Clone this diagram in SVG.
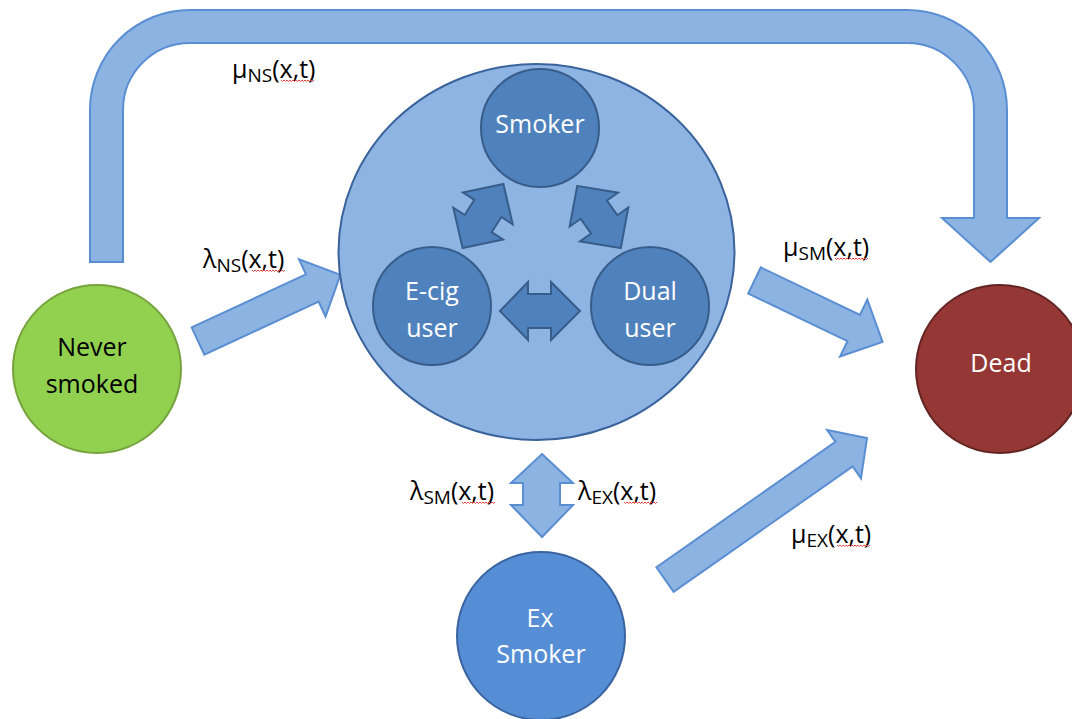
<svg xmlns="http://www.w3.org/2000/svg" width="1072" height="719" viewBox="0 0 1072 719">
<style>
  .outer { fill: #8DB3E2; stroke: #5A8ED2; stroke-width: 2; stroke-linejoin: miter; }
  .inner { fill: #4F81BD; stroke: #385D8A; stroke-width: 2; stroke-linejoin: miter; }
  .big { fill: #8EB4E3; stroke: #3A639C; stroke-width: 2; }
  .sub { fill: #4F81BD; stroke: #385D8A; stroke-width: 2; }
  .ntxt { font-family: "Open Sans", "Liberation Sans", sans-serif; font-size: 25px; text-anchor: middle; }
  .w { fill: #FFFFFF; }
  .k { fill: #000000; }
  .lbl { font-family: "Open Sans", "Liberation Sans", sans-serif; font-size: 25px; fill: #000000; }
  .s { font-size: 19px; }
  .spell { fill: none; stroke: #E04040; stroke-width: 1; }
</style>
<defs>
  <path id="wave" d="M 0 0 l 1.5 1.5 l 1.5 -1.5 l 1.5 1.5 l 1.5 -1.5 l 1.5 1.5 l 1.5 -1.5 l 1.5 1.5 l 1.5 -1.5 l 1.5 1.5 l 1.5 -1.5 l 1.5 1.5 l 1.5 -1.5 l 1.5 1.5 l 1.5 -1.5 l 1.5 1.5 l 1.5 -1.5 l 1.5 1.5 l 1.5 -1.5 l 1.5 1.5 l 1.5 -1.5 l 1.5 1.5 l 1.5 -1.5"/>
</defs>
<rect width="1072" height="719" fill="#FFFFFF"/>

<g id="connectors">
  <!-- Never smoked -> Dead (U arrow over top) -->
  <path class="outer" d="M 90 262 L 90 110 A 100 100 0 0 1 190 10 L 907 10 A 100 100 0 0 1 1007 110 L 1007 218 L 1039 218 L 990.5 262 L 942 218 L 974 218 L 974 110 A 67 67 0 0 0 907 43 L 190 43 A 67 67 0 0 0 123 110 L 123 262 Z"/>
  <!-- Never smoked -> current users -->
  <path class="outer" transform="translate(198 341) rotate(-24.9)" d="M 0 -15 L 126 -15 L 126 -31.5 L 157 0 L 126 31.5 L 126 15 L 0 15 Z"/>
  <!-- current users -> Dead -->
  <path class="outer" transform="translate(754.5 280.5) rotate(25.6)" d="M 0 -14.5 L 110 -14.5 L 110 -31.5 L 142 0 L 110 31.5 L 110 14.5 L 0 14.5 Z"/>
  <!-- Ex smoker -> Dead -->
  <path class="outer" transform="translate(665 579.5) rotate(-35)" d="M 0 -15 L 218.6 -15 L 218.6 -29.5 L 246.6 0 L 218.6 29.5 L 218.6 15 L 0 15 Z"/>
  <!-- current users <-> Ex smoker -->
  <path class="outer" d="M 542 454 L 573 483 L 560 483 L 560 505 L 573 505 L 542 537 L 511 505 L 523 505 L 523 483 L 511 483 Z"/>
</g>

<g id="current-users">
  <ellipse class="big" cx="536.5" cy="252" rx="198" ry="188"/>
</g>

<g id="inner-connectors">
  <path class="inner" d="M 500 311 L 528 282 L 528 294 L 551 294 L 551 282 L 580 311 L 551 340 L 551 328 L 528 328 L 528 340 Z"/>
  <path class="inner" transform="translate(483 216) rotate(-57.5)" d="M -38 0 L -9 -29.5 L -9 -16 L 9 -16 L 9 -29.5 L 38 0 L 9 29.5 L 9 16 L -9 16 L -9 29.5 Z"/>
  <path class="inner" transform="translate(599 217) rotate(55)" d="M -38 0 L -9 -29.5 L -9 -16 L 9 -16 L 9 -29.5 L 38 0 L 9 29.5 L 9 16 L -9 16 L -9 29.5 Z"/>
</g>

<g id="smoker">
  <circle class="sub" cx="540" cy="128" r="59"/>
  <text class="ntxt w" x="540" y="133">Smoker</text>
</g>
<g id="ecig-user">
  <circle class="sub" cx="432" cy="306" r="59"/>
  <text class="ntxt w" x="432" y="300">E-cig</text>
  <text class="ntxt w" x="432" y="337">user</text>
</g>
<g id="dual-user">
  <circle class="sub" cx="650" cy="306" r="59"/>
  <text class="ntxt w" x="650" y="300">Dual</text>
  <text class="ntxt w" x="650" y="337">user</text>
</g>

<g id="never-smoked">
  <circle cx="97" cy="369" r="84" fill="#92D050" stroke="#76A33E" stroke-width="2"/>
  <text class="ntxt k" x="92" y="356">Never</text>
  <text class="ntxt k" x="92" y="393">smoked</text>
</g>

<g id="dead">
  <circle cx="1000" cy="369" r="84" fill="#953735" stroke="#632523" stroke-width="2"/>
  <text class="ntxt w" x="1001" y="372">Dead</text>
</g>

<g id="ex-smoker">
  <circle cx="541" cy="636" r="84" fill="#558ED5" stroke="#3A64A0" stroke-width="2"/>
  <text class="ntxt w" x="540" y="627">Ex</text>
  <text class="ntxt w" x="541" y="663">Smoker</text>
</g>

<g id="labels">
  <text class="lbl" x="232" y="78">μ<tspan class="s" dy="4">NS</tspan><tspan dy="-4">(x,t)</tspan></text>
  <text class="lbl" x="203" y="268">λ<tspan class="s" dy="4">NS</tspan><tspan dy="-4">(x,t)</tspan></text>
  <text class="lbl" x="783" y="256">μ<tspan class="s" dy="4">SM</tspan><tspan dy="-4">(x,t)</tspan></text>
  <text class="lbl" x="791" y="543">μ<tspan class="s" dy="4">EX</tspan><tspan dy="-4">(x,t)</tspan></text>
  <text class="lbl" x="410" y="500">λ<tspan class="s" dy="4">SM</tspan><tspan dy="-4">(x,t)</tspan></text>
  <text class="lbl" x="578" y="500">λ<tspan class="s" dy="4">EX</tspan><tspan dy="-4">(x,t)</tspan></text>
  <use class="spell" href="#wave" x="281" y="80"/>
  <use class="spell" href="#wave" x="252" y="270"/>
  <use class="spell" href="#wave" x="835" y="258"/>
  <use class="spell" href="#wave" x="837" y="545"/>
  <use class="spell" href="#wave" x="462" y="502"/>
  <use class="spell" href="#wave" x="624" y="502"/>
</g>
</svg>
